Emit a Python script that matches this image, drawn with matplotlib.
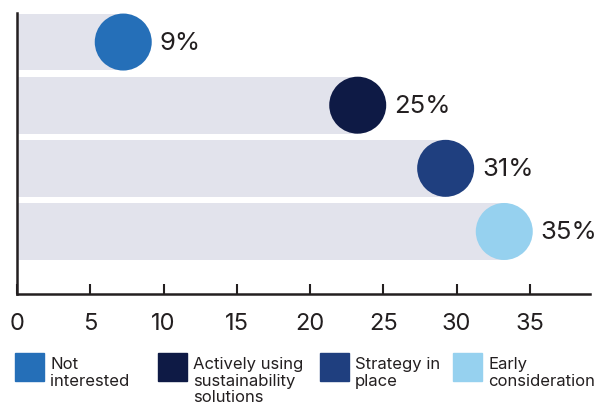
import matplotlib
matplotlib.use("Agg")
import matplotlib.pyplot as plt
from matplotlib.patches import Rectangle

plt.rcParams['font.family'] = ['Inter', 'DejaVu Sans']

categories = ["Not\ninterested", "Actively using\nsustainability\nsolutions",
              "Strategy in\nplace", "Early\nconsideration"]
values = [9, 25, 31, 35]
colors = ["#256FB8", "#0E1A45", "#1F3F7F", "#96D1EF"]
xticks = [0, 5, 10, 15, 20, 25, 30, 35]

ink = "#231F20"
bar_color = "#E2E3EC"

W, H = 600, 410
left, right, top, bottom = 17, 590, 14, 295   # axes box in pixels
xmax = 39.1
px_per_unit = (right - left) / xmax
dot_px = 57                                   # circle diameter in pixels
dot_shift = 1.75                              # circle centre sits this far below the value

fig = plt.figure(figsize=(W / 100, H / 100), dpi=100)
ax = fig.add_axes([left / W, (H - bottom) / H, (right - left) / W, (bottom - top) / H])

ypos = list(range(len(values)))
centres = [v - dot_shift for v in values]
ax.barh(ypos, centres, height=0.9, color=bar_color, zorder=1)
ax.scatter(centres, ypos, s=(dot_px * 0.72) ** 2, c=colors, linewidths=0, zorder=3)

label_gap = (dot_px / 2 + 8) / px_per_unit
for y, c, v in zip(ypos, centres, values):
    ax.text(c + label_gap, y, f"{v}%", va="center", ha="left", fontsize=18.5,
            color=ink, zorder=4)

ax.set_xlim(0, xmax)
ax.set_ylim(3.99, -0.46)
ax.set_yticks([])
ax.set_xticks(xticks)
ax.set_xticklabels([str(t) for t in xticks])
ax.tick_params(axis="x", direction="in", length=7, width=1.5, color=ink,
               labelsize=17, labelcolor=ink, pad=13)
for s in ["top", "right"]:
    ax.spines[s].set_visible(False)
for s in ["left", "bottom"]:
    ax.spines[s].set_color(ink)
    ax.spines[s].set_linewidth(1.8)

# legend swatches and labels along the bottom
leg_x = [15, 158, 320, 453]
for x0, lab, c in zip(leg_x, categories, colors):
    fig.patches.append(Rectangle((x0 / W, (H - 382) / H), 29 / W, 28 / H,
                                 transform=fig.transFigure, color=c))
    fig.text((x0 + 35) / W, (H - 357) / H, lab, ha="left", va="top",
             fontsize=12, color=ink, linespacing=1.13)

fig.savefig("out.png", dpi=100)
